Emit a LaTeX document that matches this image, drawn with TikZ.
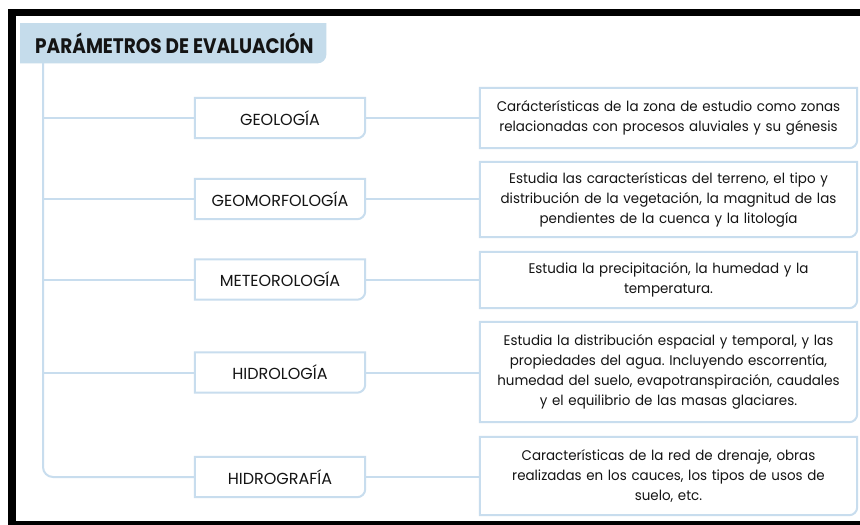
\documentclass[tikz,border=0pt]{standalone}
\usepackage{fontspec}
\setmainfont{Poppins}
\newfontfamily\titlefont[FakeStretch=0.88]{Poppins}
\newfontfamily\descfont[FakeStretch=0.96]{Poppins}
\frenchspacing
\definecolor{hdr}{HTML}{C5DCEB}
\definecolor{lineblue}{HTML}{C8DDEE}
\definecolor{txt}{HTML}{141414}
\tikzset{
  catbox/.style={minimum width=170pt, minimum height=40pt, inner sep=0pt,
    font=\fontsize{16}{18}\selectfont, text=txt},
  descbox/.style={minimum width=377pt, inner sep=0pt, text width=370pt,
    align=center, font=\descfont\fontsize{14}{20}\selectfont, text=txt},
  conn/.style={draw=lineblue, line width=2pt},
  boxline/.style={draw=lineblue, line width=2pt},
}
\newcommand\oneroundbox[2][8pt]{\draw[boxline] (#2.north west) -- (#2.north east) -- ([yshift=#1]#2.south east) arc[start angle=0,end angle=-90,radius=#1] -- (#2.south west) -- cycle;}
\begin{document}
\begin{tikzpicture}[x=1pt,y=1pt]
\useasboundingbox (0,0) rectangle (860,-525);
\fill[white] (0,0) rectangle (860,-525);
% frame
\fill[black] (8,-9) rectangle (860,-16);
\fill[black] (8,-9) rectangle (16,-521);
\fill[black] (8,-521) rectangle (860,-525);
% header
\node[minimum width=306pt, minimum height=40pt, inner sep=0pt, anchor=north west] (header) at (20,-23) {};
\fill[hdr] (header.north west) -- (header.north east) -- ([yshift=9pt]header.south east) arc[start angle=0,end angle=-90,radius=9pt] -- (header.south west) -- cycle;
\node[anchor=west, inner sep=0pt, text=txt, font=\titlefont\fontsize{21}{24}\selectfont\bfseries] (title) at (35,-43.5) {PARÁMETROS DE EVALUACIÓN};
\coordinate (trunk) at (43,-63);
% categories
\node[catbox] (geo) at (280,-118) {GEOLOGÍA};
\node[catbox] (geom) at (280,-199) {GEOMORFOLOGÍA};
\node[catbox] (met) at (280,-279.5) {METEOROLOGÍA};
\node[catbox] (hidrol) at (280,-372.5) {HIDROLOGÍA};
\node[catbox] (hidrog) at (280,-477) {HIDROGRAFÍA};
% descriptions
\node[descbox, minimum height=60pt] (dgeo) at (668.5,-118) {Carácterísticas de la zona de estudio como zonas\\relacionadas con procesos aluviales y su génesis};
\node[descbox, minimum height=75pt] (dgeom) at (668.5,-199.5) {Estudia las características del terreno, el tipo y\\distribución de la vegetación, la magnitud de las\\pendientes de la cuenca y la litología};
\node[descbox, minimum height=56pt] (dmet) at (668.5,-280) {Estudia la precipitación, la humedad y la\\temperatura.};
\node[descbox, minimum height=100pt] (dhidrol) at (668.5,-372) {Estudia la distribución espacial y temporal, y las\\propiedades del agua. Incluyendo escorrentía,\\humedad del suelo, evapotranspiración, caudales\\y el equilibrio de las masas glaciares.};
\node[descbox, minimum height=78pt] (dhidrog) at (668.5,-476) {Características de la red de drenaje, obras\\realizadas en los cauces, los tipos de usos de\\suelo, etc.};
% boxes
\foreach \n in {geo,geom,met,hidrol,hidrog,dgeo,dgeom,dmet,dhidrol,dhidrog}{\oneroundbox{\n}}
% trunk and branches
\draw[conn, rounded corners=10pt] (trunk) -- (trunk |- hidrog.west) -- (hidrog.west);
\foreach \n in {geo,geom,met,hidrol}{\draw[conn] (trunk |- \n.west) -- (\n.west);}
\draw[conn] (geo.east) -- (dgeo.west |- geo.east);
\draw[conn] (geom.east) -- (dgeom.west |- geom.east);
\draw[conn] (met.east) -- (dmet.west |- met.east);
\draw[conn] (hidrol.east) -- (dhidrol.west |- hidrol.east);
\draw[conn] (hidrog.east) -- (dhidrog.west |- hidrog.east);
\end{tikzpicture}
\end{document}
